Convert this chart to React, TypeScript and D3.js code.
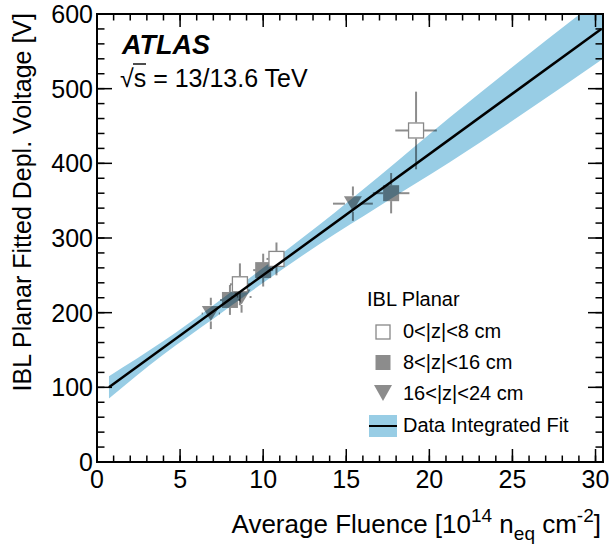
import React from "react";
import * as d3 from "d3";

// ---------- data ----------
const openX = [8.6, 10.8, 19.2];
const openY = [238, 272, 444];
const openXErr = [0.6, 0.6, 1.25];
const openYErr = [28, 22, 52];

const fillX = [8.0, 10.0, 17.7];
const fillY = [217, 257, 360];
const fillXErr = [0.6, 0.6, 1.1];
const fillYErr = [20, 22, 27];

const triX = [6.85, 8.7, 15.4];
const triY = [199, 221, 346];
const triXErr = [0.55, 0.6, 1.2];
const triYErr = [21, 21, 23];

const fitX = [0.72, 30.35];
const fitY = [100, 580];

const bandX = [0.72, 4, 7, 10, 13.4, 17, 21.2, 25, 30.45];
const bandLow = [85, 144, 192, 240, 292, 343, 401, 457, 540];
const bandHigh = [115, 162, 210, 260, 318, 383, 461, 529, 624];

const xMajorTicks = [0, 5, 10, 15, 20, 25, 30];
const yMajorTicks = [0, 100, 200, 300, 400, 500, 600];
const legendLabels = ["0<|z|<8 cm", "8<|z|<16 cm", "16<|z|<24 cm", "Data Integrated Fit"];

const W = 609;
const H = 545;
const FONT = "'Liberation Sans', Arial, Helvetica, sans-serif";
const BAND = "#98cde5";
const MARK_OP = 0.45;

export default function App() {
  const x = d3.scaleLinear().domain([0, 30.45]).range([97, 603]);
  const y = d3.scaleLinear().domain([0, 600]).range([462, 14]);
  const xMinor = d3.range(0, 30.45, 1);
  const yMinor = d3.range(0, 601, 20);

  const bandData = bandX.map((v, i) => ({ x: v, lo: bandLow[i], hi: bandHigh[i] }));
  const area = d3
    .area<{ x: number; lo: number; hi: number }>()
    .x((d) => x(d.x))
    .y0((d) => y(d.lo))
    .y1((d) => y(d.hi))
    .curve(d3.curveMonotoneX);
  const line = d3
    .line<number>()
    .x((_, i) => x(fitX[i]))
    .y((d) => y(d));

  const half = 8;
  const errBars = (xs: number[], ys: number[], xe: number[], ye: number[], key: string) =>
    xs.map((xv, i) => {
      const cx = x(xv);
      const cy = y(ys[i]);
      const x0 = x(xv - xe[i]);
      const x1 = x(xv + xe[i]);
      const yTop = y(ys[i] + ye[i]);
      const yBot = y(ys[i] - ye[i]);
      const segs: [number, number, number, number][] = [];
      if (cy - half > yTop) segs.push([cx, yTop, cx, cy - half]);
      if (cy + half < yBot) segs.push([cx, cy + half, cx, yBot]);
      if (cx - half > x0) segs.push([x0, cy, cx - half, cy]);
      if (cx + half < x1) segs.push([cx + half, cy, x1, cy]);
      return segs.map((s, j) => (
        <line key={`${key}-${i}-${j}`} x1={s[0]} y1={s[1]} x2={s[2]} y2={s[3]} stroke="#000" strokeOpacity={MARK_OP} strokeWidth={2} />
      ));
    });

  const triPath = (cx: number, cy: number, w: number, h: number) =>
    `M${cx - w / 2},${cy - h / 2}L${cx + w / 2},${cy - h / 2}L${cx},${cy + h / 2}Z`;

  const clipId = "plotclip";

  return (
    <svg width={W} height={H} style={{ position: "absolute", left: 0, top: 0, background: "#fff" }} fontFamily={FONT}>
      <defs>
        <clipPath id={clipId}>
          <rect x={97} y={14} width={506} height={448} />
        </clipPath>
      </defs>
      <rect x={0} y={0} width={W} height={H} fill="#fff" />

      {/* band */}
      <path d={area(bandData) || ""} fill={BAND} clipPath={`url(#${clipId})`} />

      {/* error bars */}
      {errBars(openX, openY, openXErr, openYErr, "o")}
      {errBars(fillX, fillY, fillXErr, fillYErr, "f")}
      {errBars(triX, triY, triXErr, triYErr, "t")}

      {/* markers */}
      {fillX.map((v, i) => (
        <rect key={`fm${i}`} x={x(v) - half} y={y(fillY[i]) - half} width={2 * half} height={2 * half} fill="#000" fillOpacity={MARK_OP} />
      ))}
      {triX.map((v, i) => (
        <path key={`tm${i}`} d={triPath(x(v), y(triY[i]), 18, 15)} fill="#000" fillOpacity={MARK_OP} />
      ))}
      {openX.map((v, i) => (
        <rect key={`om${i}`} x={x(v) - half + 0.5} y={y(openY[i]) - half + 0.5} width={2 * half - 1} height={2 * half - 1} fill="#fff" stroke="#888" strokeWidth={1.3} />
      ))}

      {/* fit line */}
      <path d={line(fitY) || ""} fill="none" stroke="#000" strokeWidth={2.5} />

      {/* frame */}
      <rect x={97} y={14} width={506} height={448} fill="none" stroke="#000" strokeWidth={2} />

      {/* x ticks */}
      {xMinor.map((t) => (
        <g key={`xm${t}`}>
          <line x1={x(t)} x2={x(t)} y1={462} y2={462 - 6.5} stroke="#000" strokeWidth={1.5} />
          <line x1={x(t)} x2={x(t)} y1={14} y2={14 + 6.5} stroke="#000" strokeWidth={1.5} />
        </g>
      ))}
      {xMajorTicks.map((t) => (
        <g key={`xM${t}`}>
          <line x1={x(t)} x2={x(t)} y1={462} y2={462 - 13} stroke="#000" strokeWidth={1.5} />
          <line x1={x(t)} x2={x(t)} y1={14} y2={14 + 13} stroke="#000" strokeWidth={1.5} />
          <text x={x(t)} y={488} fontSize={25} textAnchor="middle" fill="#000">
            {t}
          </text>
        </g>
      ))}

      {/* y ticks */}
      {yMinor.map((t) => (
        <g key={`ym${t}`}>
          <line x1={97} x2={97 + 7.5} y1={y(t)} y2={y(t)} stroke="#000" strokeWidth={1.5} />
          <line x1={603} x2={603 - 7.5} y1={y(t)} y2={y(t)} stroke="#000" strokeWidth={1.5} />
        </g>
      ))}
      {yMajorTicks.map((t) => (
        <g key={`yM${t}`}>
          <line x1={97} x2={97 + 15} y1={y(t)} y2={y(t)} stroke="#000" strokeWidth={1.5} />
          <line x1={603} x2={603 - 15} y1={y(t)} y2={y(t)} stroke="#000" strokeWidth={1.5} />
          <text x={93} y={y(t) + 9} fontSize={25} textAnchor="end" fill="#000">
            {t}
          </text>
        </g>
      ))}

      {/* axis titles */}
      <text x={601} y={533} fontSize={26} textAnchor="end" fill="#000">
        Average Fluence [10
        <tspan fontSize={19} dy={-11}>14</tspan>
        <tspan dy={11}> n</tspan>
        <tspan fontSize={19} dy={7}>eq</tspan>
        <tspan dy={-7}> cm</tspan>
        <tspan fontSize={19} dy={-11}>-2</tspan>
        <tspan dy={11}>]</tspan>
      </text>
      <text transform="translate(31,13) rotate(-90)" fontSize={25} textAnchor="end" fill="#000">
        IBL Planar Fitted Depl. Voltage [V]
      </text>

      {/* ATLAS label */}
      <text x={122} y={54} fontSize={27} fontWeight="bold" fontStyle="italic" fill="#000">
        ATLAS
      </text>
      <text x={120} y={87} fontSize={25} fill="#000">
        √s = 13/13.6 TeV
      </text>
      <line x1={133} x2={146} y1={64} y2={64} stroke="#000" strokeWidth={1.4} />

      {/* legend */}
      <text x={367} y={306} fontSize={20} fill="#000">
        IBL Planar
      </text>
      <rect x={376} y={325} width={14} height={14} fill="#fff" stroke="#888" strokeWidth={1.3} />
      <text x={403} y={338} fontSize={20} fill="#000">
        {legendLabels[0]}
      </text>
      <rect x={375.5} y={355} width={15} height={15} fill="#000" fillOpacity={MARK_OP} />
      <text x={403} y={369} fontSize={20} fill="#000">
        {legendLabels[1]}
      </text>
      <path d={triPath(383, 393, 18, 16)} fill="#000" fillOpacity={MARK_OP} />
      <text x={403} y={400} fontSize={20} fill="#000">
        {legendLabels[2]}
      </text>
      <rect x={369} y={415} width={28} height={22} fill={BAND} />
      <line x1={369} x2={397} y1={426} y2={426} stroke="#000" strokeWidth={2} />
      <text x={403} y={432} fontSize={20} fill="#000">
        {legendLabels[3]}
      </text>
    </svg>
  );
}
